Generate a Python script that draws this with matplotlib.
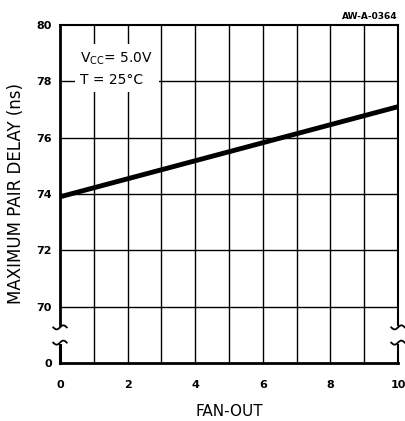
import numpy as np
import matplotlib
matplotlib.use("Agg")
import matplotlib.pyplot as plt
from matplotlib.transforms import blended_transform_factory

# Data
fan_out = [0, 2, 4, 6, 8, 10]
delay_ns = [73.9, 74.54, 75.18, 75.82, 76.46, 77.1]
x_ticks = [0, 2, 4, 6, 8, 10]
x_tick_labels = ["0", "2", "4", "6", "8", "10"]
y_ticks = [68, 70, 72, 74, 76, 78, 80]
y_tick_labels = ["0", "70", "72", "74", "76", "78", "80"]

fig = plt.figure(figsize=(4.05, 4.21), dpi=100)
ax = fig.add_axes([60/405, 1-363/421, (398-60)/405, (363-25)/421])
ax.set_xlim(0, 10)
ax.set_ylim(68, 80)

# grid
for xv in range(1, 10):
    ax.axvline(xv, color="black", lw=1.0, zorder=1)
for yv in [70, 72, 74, 76, 78]:
    ax.axhline(yv, color="black", lw=1.0, zorder=1)

ax.plot(fan_out, delay_ns, color="black", lw=3.5, solid_capstyle="butt", zorder=3, clip_on=False)

for s in ["left", "right"]:
    ax.spines[s].set_visible(False)
ax.spines["top"].set_linewidth(1.5)
ax.spines["bottom"].set_linewidth(2.0)

# broken side spines
gap_lo = 1 - (345-25)/338
gap_hi = 1 - (325-25)/338
ax.axvline(0, ymin=0, ymax=gap_lo, color="black", lw=2.2, clip_on=False, zorder=4)
ax.axvline(0, ymin=gap_hi, ymax=1, color="black", lw=2.0, clip_on=False, zorder=4)
ax.axvline(10, ymin=0, ymax=gap_lo, color="black", lw=1.5, clip_on=False, zorder=4)
ax.axvline(10, ymin=gap_hi, ymax=1, color="black", lw=1.5, clip_on=False, zorder=4)
tr = blended_transform_factory(ax.transData, ax.transAxes)
t = np.linspace(-1, 1, 30)
for xc in [0, 10]:
    for off in [gap_lo + 0.007, gap_hi - 0.007]:
        ax.plot(xc + 0.2*t, off + 0.006*np.sin(np.pi*t), color="black", lw=1.3,
                transform=tr, clip_on=False, zorder=5)

ax.set_xticks(x_ticks)
ax.set_xticklabels(x_tick_labels, fontsize=8, fontweight="bold")
ax.set_yticks(y_ticks)
ax.set_yticklabels(y_tick_labels, fontsize=8, fontweight="bold")
ax.tick_params(length=0, pad=12)
ax.tick_params(axis="y", pad=6)

ax.set_xlabel("FAN-OUT", fontsize=11, labelpad=10)
ax.set_ylabel("MAXIMUM PAIR DELAY (ns)", fontsize=12, labelpad=8)

ax.text(0.6, 78.45, "V$_{\\mathregular{CC}}$= 5.0V\nT = 25°C", fontsize=10, va="center", ha="left",
        zorder=6, linespacing=1.5,
        bbox=dict(facecolor="white", edgecolor="none", pad=4))
ax.text(1.0, 1.012, "AW-A-0364", fontsize=6.5, fontweight="bold", ha="right", va="bottom",
        transform=ax.transAxes)

fig.savefig("out.png", dpi=100, facecolor="white")
